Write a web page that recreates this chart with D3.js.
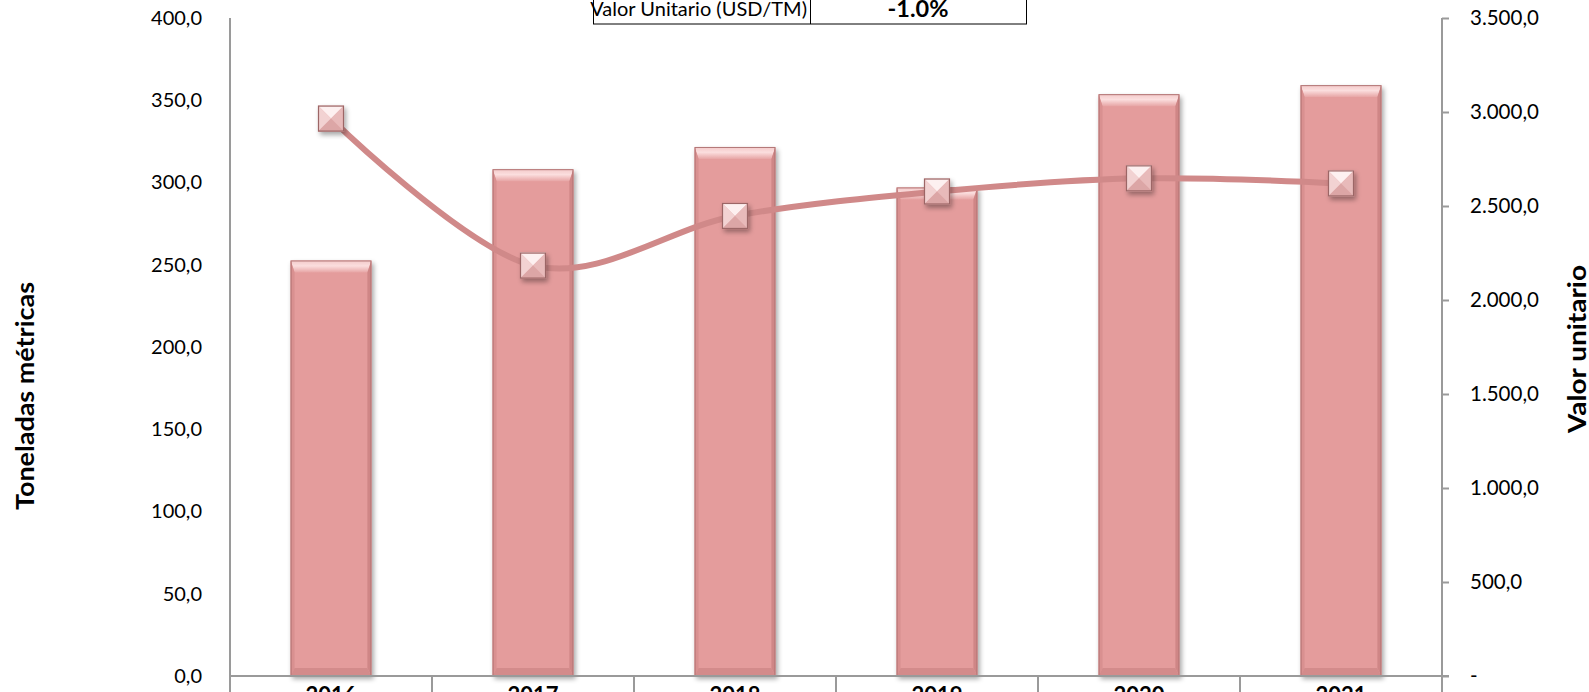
<!DOCTYPE html>
<html><head><meta charset="utf-8">
<script src="https://cdn.jsdelivr.net/npm/d3@7/dist/d3.min.js"></script>
<style>body{margin:0;background:#fff}svg{display:block}</style>
</head><body><svg id="c" width="1589" height="692"></svg>
<script>
const years = ["2016","2017","2018","2019","2020","2021"];
const toneladas = [252.6, 308.1, 321.6, 297.0, 353.7, 359.2];
const valorUnitario = [2965, 2183, 2447, 2577, 2647, 2620];
const leftTicks = [0,50,100,150,200,250,300,350,400];
const rightTicks = [0,500,1000,1500,2000,2500,3000,3500];
const tableLabel = "Valor Unitario (USD/TM)";
const tableValue = "-1.0%";

const svg = d3.select("#c");
const W = 1589, H = 692;
const x0 = 230, x1 = 1442, yTop = 18, yBot = 676;
const FONT = "Lato, 'Open Sans', sans-serif";

const x = d3.scaleBand().domain(years).range([x0, x1]).paddingInner(0.6).paddingOuter(0.3);
const yL = d3.scaleLinear().domain([0,400]).range([yBot, yTop]);
const yR = d3.scaleLinear().domain([0,3500]).range([yBot, yTop]);
const fmt = v => d3.format(",.1f")(v).replace(/,/g,"#").replace(".",",").replace(/#/g,".");

const defs = svg.append("defs");
const sh = defs.append("filter").attr("id","sh").attr("x","-30%").attr("y","-30%").attr("width","160%").attr("height","160%");
sh.append("feGaussianBlur").attr("in","SourceAlpha").attr("stdDeviation",2.5).attr("result","b");
sh.append("feOffset").attr("in","b").attr("dx",2).attr("dy",3).attr("result","o");
sh.append("feComponentTransfer").attr("in","o").attr("result","o2").append("feFuncA").attr("type","linear").attr("slope",0.35);
const m = sh.append("feMerge"); m.append("feMergeNode").attr("in","o2"); m.append("feMergeNode").attr("in","SourceGraphic");

const gTop = defs.append("linearGradient").attr("id","gtop").attr("x1",0).attr("y1",0).attr("x2",0).attr("y2",1);
gTop.append("stop").attr("offset","0%").attr("stop-color","#f3c9c9");
gTop.append("stop").attr("offset","45%").attr("stop-color","#fbdede");
gTop.append("stop").attr("offset","100%").attr("stop-color","#e7a5a5");

// left axis
const lAxis = d3.axisLeft(yL).tickValues(leftTicks).tickSize(0).tickPadding(28).tickFormat(fmt);
const gl = svg.append("g").attr("transform",`translate(${x0},0)`).call(lAxis);
gl.select(".domain").remove();
gl.selectAll("text").attr("font-family",FONT).attr("font-size",20).attr("fill","#000");

const rAxis = d3.axisRight(yR).tickValues(rightTicks).tickSize(7).tickPadding(21).tickFormat(v => v===0 ? "-" : fmt(v));
const gr = svg.append("g").attr("transform",`translate(${x1},0)`).call(rAxis);
gr.select(".domain").remove();
gr.selectAll("line").attr("stroke","#9a9a9a").attr("stroke-width",2);
gr.selectAll("text").attr("font-family",FONT).attr("font-size",20.5).attr("fill","#000");

// bars
const bars = svg.append("g").selectAll("g").data(years).join("g").attr("filter","url(#sh)");
bars.each(function(yr,i){
  const g = d3.select(this);
  const bx = x(yr), bw = x.bandwidth(), by = yL(toneladas[i]), bh = yBot - by;
  const tb = 12, sb = 4, bb = 8;
  g.append("rect").attr("x",bx).attr("y",by).attr("width",bw).attr("height",bh).attr("fill","#e49c9c");
  g.append("path").attr("d",`M${bx},${by}H${bx+bw}L${bx+bw-sb},${by+tb}H${bx+sb}Z`).attr("fill","url(#gtop)");
  g.append("path").attr("d",`M${bx},${by}L${bx+sb},${by+tb}V${yBot-bb}L${bx},${yBot}Z`).attr("fill","#d99090");
  g.append("path").attr("d",`M${bx+bw},${by}L${bx+bw-sb},${by+tb}V${yBot-bb}L${bx+bw},${yBot}Z`).attr("fill","#cf8686");
  g.append("path").attr("d",`M${bx},${yBot}L${bx+sb},${yBot-bb}H${bx+bw-sb}L${bx+bw},${yBot}Z`).attr("fill","#d38b8b");
  g.append("rect").attr("x",bx+0.5).attr("y",by+0.5).attr("width",bw-1).attr("height",bh-1).attr("fill","none").attr("stroke","#b27676").attr("stroke-width",1);
});

// axis lines
svg.append("line").attr("x1",x0).attr("x2",x0).attr("y1",yTop).attr("y2",H).attr("stroke","#9a9a9a").attr("stroke-width",2);
svg.append("line").attr("x1",x1).attr("x2",x1).attr("y1",yTop).attr("y2",H).attr("stroke","#9a9a9a").attr("stroke-width",2);
svg.append("line").attr("x1",x0).attr("x2",x1+7).attr("y1",yBot).attr("y2",yBot).attr("stroke","#9a9a9a").attr("stroke-width",2);
const step = x.step();
years.forEach((yr,i)=>{ if(i>0){ const xx = x(yr) - x.paddingInner()*step/2; svg.append("line").attr("x1",xx).attr("x2",xx).attr("y1",yBot).attr("y2",H).attr("stroke","#9a9a9a").attr("stroke-width",2);} });

// x labels (partly below the visible area, as in the reference)
svg.append("g").selectAll("text").data(years).join("text")
  .attr("x",d=>x(d)+x.bandwidth()/2).attr("y",703).attr("text-anchor","middle")
  .attr("font-family",FONT).attr("font-weight","bold").attr("font-size",22).text(d=>d);

// line
const cx = d => x(d)+x.bandwidth()/2;
const line = d3.line().x((d,i)=>cx(years[i])).y(d=>yR(d)).curve(d3.curveCatmullRom.alpha(0));
svg.append("path").datum(valorUnitario).attr("d",line).attr("fill","none").attr("stroke","#d08989").attr("stroke-width",6);

// markers
const ms = 26;
const mk = svg.append("g").selectAll("g").data(valorUnitario).join("g")
  .attr("transform",(d,i)=>`translate(${cx(years[i])},${yR(d)})`).attr("filter","url(#sh)");
mk.each(function(){
  const g = d3.select(this), h = ms/2;
  g.append("rect").attr("x",-h).attr("y",-h).attr("width",ms).attr("height",ms).attr("fill","#e8b4b4");
  g.append("path").attr("d",`M${-h},${-h}H${h}L0,0Z`).attr("fill","#fdf0f0");
  g.append("path").attr("d",`M${-h},${-h}L0,0L${-h},${h}Z`).attr("fill","#f2d2d2");
  g.append("path").attr("d",`M${h},${-h}L0,0L${h},${h}Z`).attr("fill","#e8baba");
  g.append("path").attr("d",`M${-h},${h}L0,0L${h},${h}Z`).attr("fill","#dca6a6");
  g.append("rect").attr("x",-h+0.5).attr("y",-h+0.5).attr("width",ms-1).attr("height",ms-1).attr("fill","none").attr("stroke","#9c6666").attr("stroke-width",1.2);
});

// axis titles
svg.append("text").attr("transform","translate(34,396) rotate(-90)").attr("text-anchor","middle")
  .attr("font-family",FONT).attr("font-weight","bold").attr("font-size",25)
  .attr("textLength",228).attr("lengthAdjust","spacingAndGlyphs").text("Toneladas métricas");
svg.append("text").attr("transform","translate(1586,349) rotate(-90)").attr("text-anchor","middle")
  .attr("font-family",FONT).attr("font-weight","bold").attr("font-size",25)
  .attr("textLength",168).attr("lengthAdjust","spacingAndGlyphs").text("Valor unitario");

// table
const tg = svg.append("g");
tg.append("rect").attr("x",593.5).attr("y",-10).attr("width",433).attr("height",34).attr("fill","#fff").attr("stroke","#000").attr("stroke-width",1);
tg.append("line").attr("x1",810.5).attr("x2",810.5).attr("y1",-10).attr("y2",24).attr("stroke","#000");
tg.append("text").attr("x",807).attr("y",16).attr("text-anchor","end").attr("font-family",FONT).attr("font-size",20).text(tableLabel);
tg.append("text").attr("x",918).attr("y",17).attr("text-anchor","middle").attr("font-family",FONT).attr("font-weight","bold").attr("font-size",23.5).text(tableValue);
</script></body></html>
